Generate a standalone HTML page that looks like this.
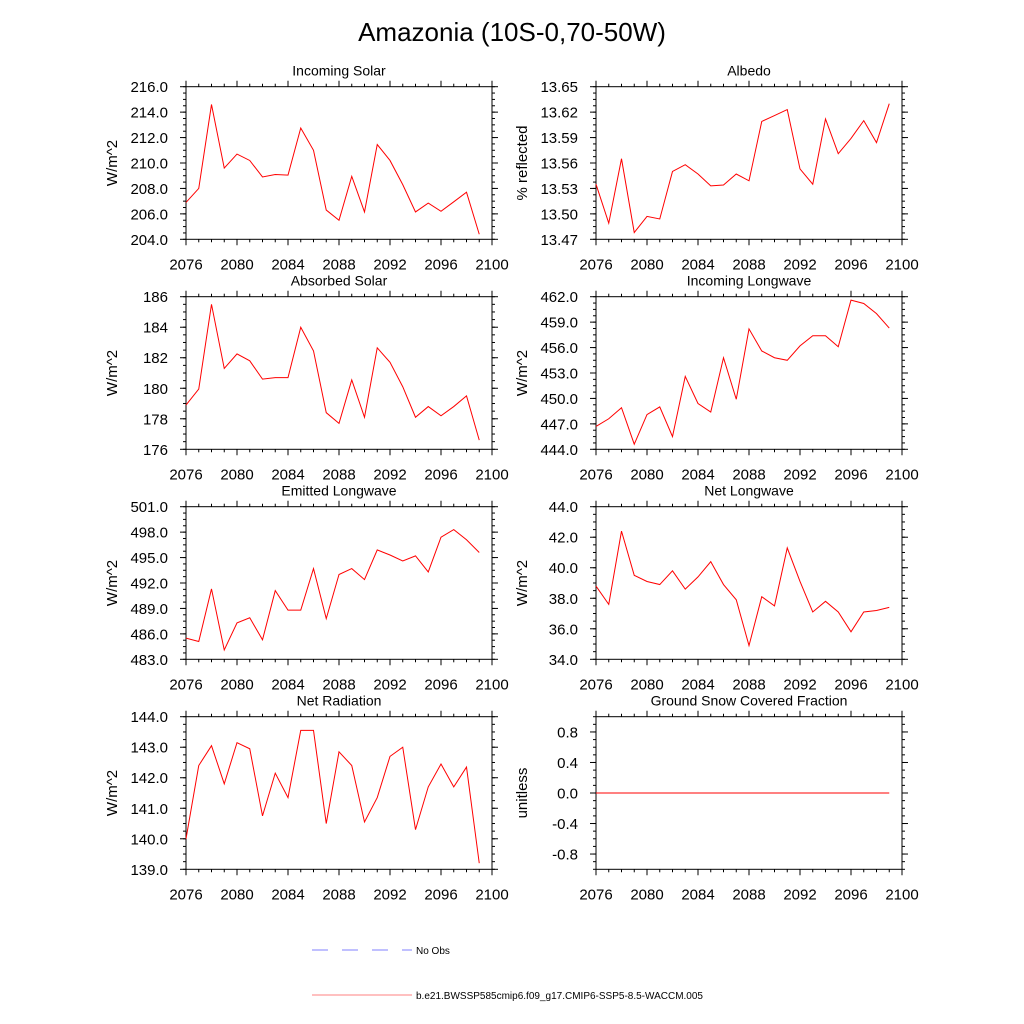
<!DOCTYPE html>
<html><head><meta charset="utf-8"><style>
html,body{margin:0;padding:0;background:#fff}
svg{display:block;font-family:"Liberation Sans",Arial,sans-serif}
</style></head><body>
<svg id="fig" width="1024" height="1024" viewBox="0 0 1024 1024">
<text x="512" y="41" text-anchor="middle" font-size="26">Amazonia (10S-0,70-50W)</text>
<g>
<line x1="312" y1="950" x2="412" y2="950" stroke="#8080ff" stroke-width="1" stroke-dasharray="16,14"/>
<text x="416" y="954" font-size="10">No Obs</text>
<line x1="312" y1="995" x2="412" y2="995" stroke="#ff8080" stroke-width="1"/>
<text x="416" y="999" font-size="10">b.e21.BWSSP585cmip6.f09_g17.CMIP6-SSP5-8.5-WACCM.005</text>
</g>
</svg>
<script>
const years = [2076,2077,2078,2079,2080,2081,2082,2083,2084,2085,2086,2087,2088,2089,2090,2091,2092,2093,2094,2095,2096,2097,2098,2099];
const xTicks = [2076,2080,2084,2088,2092,2096,2100];
const incomingSolar = [206.9,208.0,214.6,209.6,210.7,210.2,208.9,209.1,209.05,212.75,211.0,206.3,205.5,208.95,206.15,211.45,210.2,208.3,206.15,206.85,206.2,206.95,207.7,204.4];
const albedo = [13.535,13.489,13.565,13.478,13.497,13.494,13.550,13.558,13.547,13.533,13.534,13.547,13.539,13.609,13.616,13.623,13.553,13.535,13.612,13.571,13.589,13.610,13.584,13.630];
const absorbedSolar = [178.9,179.95,185.5,181.3,182.25,181.8,180.6,180.7,180.7,184.0,182.45,178.4,177.7,180.55,178.1,182.65,181.7,180.1,178.1,178.8,178.2,178.8,179.5,176.6];
const incomingLW = [446.7,447.6,448.9,444.6,448.1,449.0,445.5,452.6,449.4,448.4,454.8,449.9,458.2,455.6,454.8,454.5,456.2,457.4,457.4,456.1,461.6,461.2,460.0,458.3];
const emittedLW = [485.5,485.1,491.3,484.1,487.3,487.9,485.3,491.1,488.8,488.8,493.7,487.8,493.0,493.7,492.4,495.9,495.3,494.6,495.2,493.3,497.4,498.3,497.1,495.6];
const netLW = [38.8,37.6,42.4,39.5,39.1,38.9,39.8,38.6,39.4,40.4,38.9,37.9,34.9,38.1,37.5,41.3,39.1,37.1,37.8,37.1,35.8,37.1,37.2,37.4];
const netRad = [140.0,142.4,143.05,141.8,143.15,142.95,140.75,142.15,141.35,143.55,143.55,140.5,142.85,142.4,140.55,141.35,142.7,143.0,140.3,141.7,142.45,141.7,142.35,139.2];
const snowFrac = [0,0,0,0,0,0,0,0,0,0,0,0,0,0,0,0,0,0,0,0,0,0,0,0];
const ticksIS = [204,206,208,210,212,214,216];
const ticksAlb = [13.47,13.50,13.53,13.56,13.59,13.62,13.65];
const ticksAS = [176,178,180,182,184,186];
const ticksILW = [444,447,450,453,456,459,462];
const ticksELW = [483,486,489,492,495,498,501];
const ticksNLW = [34,36,38,40,42,44];
const ticksNR = [139,140,141,142,143,144];
const ticksSnow = [-0.8,-0.4,0,0.4,0.8];

const NS='http://www.w3.org/2000/svg';
const svg=document.getElementById('fig');
function mk(tag,attrs,parent){const e=document.createElementNS(NS,tag);for(const k in attrs)e.setAttribute(k,attrs[k]);parent.appendChild(e);return e;}

const panels=[
 {name:'incoming-solar',title:'Incoming Solar',ylab:'W/m^2',data:incomingSolar,ticks:ticksIS,ymin:204,ymax:216,dec:1,col:0,row:0},
 {name:'albedo',title:'Albedo',ylab:'% reflected',data:albedo,ticks:ticksAlb,ymin:13.47,ymax:13.65,dec:2,col:1,row:0},
 {name:'absorbed-solar',title:'Absorbed Solar',ylab:'W/m^2',data:absorbedSolar,ticks:ticksAS,ymin:176,ymax:186,dec:0,col:0,row:1},
 {name:'incoming-longwave',title:'Incoming Longwave',ylab:'W/m^2',data:incomingLW,ticks:ticksILW,ymin:444,ymax:462,dec:1,col:1,row:1},
 {name:'emitted-longwave',title:'Emitted Longwave',ylab:'W/m^2',data:emittedLW,ticks:ticksELW,ymin:483,ymax:501,dec:1,col:0,row:2},
 {name:'net-longwave',title:'Net Longwave',ylab:'W/m^2',data:netLW,ticks:ticksNLW,ymin:34,ymax:44,dec:1,col:1,row:2},
 {name:'net-radiation',title:'Net Radiation',ylab:'W/m^2',data:netRad,ticks:ticksNR,ymin:139,ymax:144,dec:1,col:0,row:3},
 {name:'snow-fraction',title:'Ground Snow Covered Fraction',ylab:'unitless',data:snowFrac,ticks:ticksSnow,ymin:-1,ymax:1,dec:1,col:1,row:3}
];
const lefts=[186,596], tops=[86.7,296.7,506.7,716.7], W=306, H=152.6;
panels.forEach(p=>{
 const L=lefts[p.col],T=tops[p.row],R=L+W,B=T+H;
 const g=mk('g',{},svg);
 
 
 const sx=v=>L+(v-2076)/(2100-2076)*W;
 const sy=v=>B-(v-p.ymin)/(p.ymax-p.ymin)*H;
 const box=mk('rect',{x:L,y:T,width:W,height:H,fill:'none',stroke:'#000','stroke-width':1},g);
 
 
 for(let yr=2076;yr<=2100;yr++){
  const x=sx(yr),maj=(yr-2076)%4===0,len=maj?6:3;
  mk('line',{x1:x,y1:B,x2:x,y2:B+len,stroke:'#000','stroke-width':1},g);
  mk('line',{x1:x,y1:T,x2:x,y2:T-len,stroke:'#000','stroke-width':1},g);
 }
 xTicks.forEach(yr=>{
  const t=mk('text',{x:sx(yr),y:B+30,'text-anchor':'middle','font-size':15},g);
  t.textContent=yr;
  
  
 });
 const step=p.ticks[1]-p.ticks[0];
 for(let i=0;i<p.ticks.length;i++){
  const v=p.ticks[i],y=sy(v);
  mk('line',{x1:L,y1:y,x2:L-6,y2:y,stroke:'#000','stroke-width':1},g);
  mk('line',{x1:R,y1:y,x2:R+6,y2:y,stroke:'#000','stroke-width':1},g);
  const t=mk('text',{x:L-18,y:y+5.5,'text-anchor':'end','font-size':15},g);
  t.textContent=v.toFixed(p.dec);
  
  
 }
 const lo=p.ticks[0]-step, hi=p.ticks[p.ticks.length-1]+step;
 for(let v=lo;v<=hi+1e-9;v+=step/4){
  if(v<p.ymin-1e-9||v>p.ymax+1e-9)continue;
  const y=sy(v);
  mk('line',{x1:L,y1:y,x2:L-3,y2:y,stroke:'#000','stroke-width':1},g);
  mk('line',{x1:R,y1:y,x2:R+3,y2:y,stroke:'#000','stroke-width':1},g);
 }
 const tt=mk('text',{x:L+W/2,y:T-11,'text-anchor':'middle','font-size':14},g);
 tt.textContent=p.title;
 
 
 const yl=mk('text',{x:0,y:0,'text-anchor':'middle','font-size':15,transform:`translate(${L-69},${T+H/2}) rotate(-90)`},g);
 yl.textContent=p.ylab;
 
 
 const pts=p.data.map((v,i)=>sx(years[i]).toFixed(2)+','+sy(v).toFixed(2)).join(' ');
 const line=mk('polyline',{points:pts,fill:'none',stroke:'#ff0000','stroke-width':1},g);
 
 
});
</script>
</body></html>
